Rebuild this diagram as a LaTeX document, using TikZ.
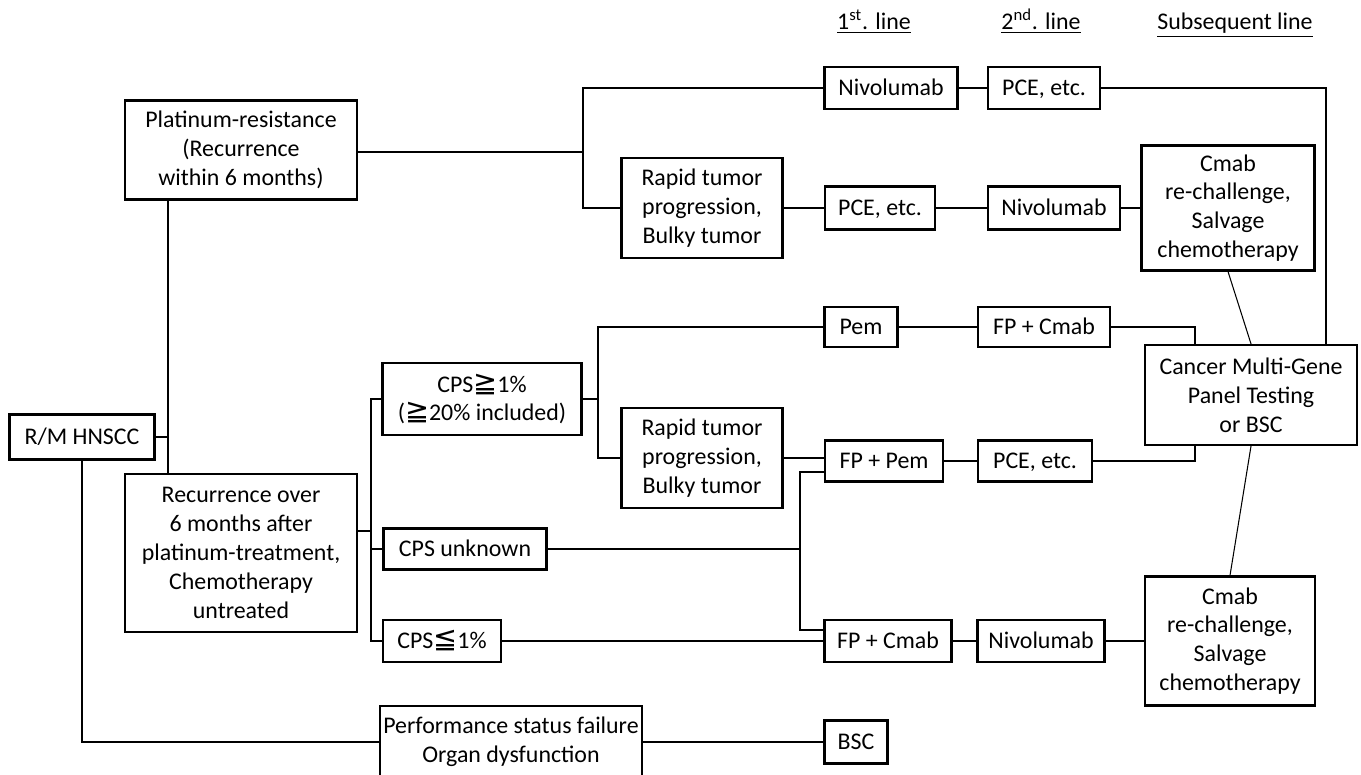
\documentclass[tikz,border=0pt]{standalone}
\usepackage{fontspec}
\setmainfont{Carlito}
\newfontfamily\symfnt[Scale=1.2]{DejaVu Sans}
\usepackage{tikz}

\newcommand{\geqsym}{{\symfnt\char"2267}}
\newcommand{\leqsym}{{\symfnt\char"2266}}

\begin{document}
\begin{tikzpicture}[x=0.02cm,y=-0.02cm,
    box/.style={draw,line width=1.25pt,align=center,inner sep=2pt,
      font=\fontsize{13.6}{16.4}\selectfont},
    single/.style={box,text height=11.4pt,text depth=2.6pt},
    link/.style={line width=1.25pt},
    thin link/.style={line width=0.6pt},
    head/.style={anchor=base,font=\fontsize{13.6}{16.4}\selectfont}]
  \useasboundingbox (0,0) rectangle (1361,774);
  % column titles
  \node[head] (h1) at (874,30) {\underline{1\textsuperscript{st}. line}};
  \node[head] (h2) at (1041,30) {\underline{2\textsuperscript{nd}. line}};
  \node[head] (h3) at (1235,30) {\underline{Subsequent line}};
  % left part
  \node[single,minimum width=2.9cm,minimum height=0.9cm] (rm) at (82,437) {R/M HNSCC};
  \node[box,minimum width=4.64cm,minimum height=1.98cm] (plat) at (241,150)
    {Platinum-resistance\\(Recurrence\\within 6 months)};
  \node[box,minimum width=4.64cm,minimum height=3.16cm] (recur) at (241,553)
    {Recurrence over\\6 months after\\platinum-treatment,\\Chemotherapy\\untreated};
  \node[box,minimum width=5.14cm,minimum height=1.44cm] (perf) at (511,742)
    {Performance status failure\\Organ dysfunction};
  \node[single,minimum width=1.26cm,minimum height=0.86cm] (bsc) at (856,742) {BSC};
  % platinum-resistance branch
  \node[single,minimum width=2.66cm,minimum height=0.84cm] (nivoA) at (891,88) {Nivolumab};
  \node[single,minimum width=2.24cm,minimum height=0.84cm] (pceA) at (1044,88) {PCE, etc.};
  \node[box,minimum width=3.22cm,minimum height=2cm] (rapidA) at (702,208)
    {Rapid tumor\\progression,\\Bulky tumor};
  \node[single,minimum width=2.2cm,minimum height=0.86cm] (pceB) at (880,208) {PCE, etc.};
  \node[single,minimum width=2.64cm,minimum height=0.86cm] (nivoB) at (1054,208) {Nivolumab};
  \node[box,minimum width=3.46cm,minimum height=2.5cm] (cmabA) at (1228,208)
    {Cmab\\re-challenge,\\Salvage\\chemotherapy};
  \node[box,minimum width=4.24cm,minimum height=2cm] (panel) at (1251,395)
    {Cancer Multi-Gene\\Panel Testing\\or BSC};
  \node[box,minimum width=3.4cm,minimum height=2.58cm] (cmabB) at (1230,641)
    {Cmab\\re-challenge,\\Salvage\\chemotherapy};
  % CPS branch
  \node[box,minimum width=3.98cm,minimum height=1.44cm] (cpshi) at (482,399)
    {CPS\geqsym1\%\\(\geqsym20\% included)};
  \node[single,minimum width=3.26cm,minimum height=0.82cm] (cpsunk) at (465,549) {CPS unknown};
  \node[single,minimum width=2.36cm,minimum height=0.84cm] (cpslo) at (442,641) {CPS\leqsym1\%};
  \node[single,minimum width=1.46cm,minimum height=0.8cm] (pem) at (861,327) {Pem};
  \node[single,minimum width=2.64cm,minimum height=0.8cm] (fpcA) at (1044,327) {FP + Cmab};
  \node[box,minimum width=3.22cm,minimum height=2cm] (rapidB) at (702,458)
    {Rapid tumor\\progression,\\Bulky tumor};
  \node[single,minimum width=2.36cm,minimum height=0.82cm] (fppem) at (884,461) {FP + Pem};
  \node[single,minimum width=2.28cm,minimum height=0.82cm] (pceC) at (1035,461) {PCE, etc.};
  \node[single,minimum width=2.54cm,minimum height=0.84cm] (fpcB) at (888,641) {FP + Cmab};
  \node[single,minimum width=2.54cm,minimum height=0.84cm] (nivoC) at (1041,641) {Nivolumab};
  % junctions
  \coordinate (j1) at (168,437);
  \coordinate (j2) at (583,152);
  \coordinate (j3) at (371,531);
  \coordinate (j5) at (598,399);
  \coordinate (j6) at (800,549);
  \coordinate (lt) at (1195,0);
  \coordinate (rt) at (1326,0);
  % connectors
  \draw[link] (rm.east) -- (rm.east -| j1);
  \draw[link] (plat.south -| j1) -- (recur.north -| j1);
  \draw[link] (rm.south) |- (perf.west);
  \draw[link] (perf) -- (bsc);
  \draw[link] (plat.east |- j2) -- (j2);
  \draw[link] (j2) |- (nivoA.west);
  \draw[link] (j2) |- (rapidA.west);
  \draw[link] (nivoA) -- (pceA);
  \draw[link] (pceA.east) -| (rt |- panel.north);
  \draw[link] (rapidA) -- (pceB);
  \draw[link] (pceB) -- (nivoB);
  \draw[link] (nivoB) -- (cmabA);
  \draw[thin link] (cmabA.south) -- (panel.north);
  \draw[thin link] (panel.south) -- (cmabB.north);
  \draw[link] (recur.east |- j3) -- (j3);
  \draw[link] (cpshi.west) -| (j3) |- (cpslo.west);
  \draw[link] (cpsunk.west -| j3) -- (cpsunk.west);
  \draw[link] (cpshi.east) -- (j5);
  \draw[link] (j5) |- (pem.west);
  \draw[link] (j5) |- (rapidB.west);
  \draw[link] (pem) -- (fpcA);
  \draw[link] (fpcA.east) -| (lt |- panel.north);
  \draw[link] (rapidB.east) -- (rapidB.east -| fppem.west);
  \draw[link] (fppem) -- (pceC);
  \draw[link] (pceC.east) -| (lt |- panel.south);
  \draw[link] (cpsunk.east) -- (j6);
  \draw[link] ([yshift=-0.22cm]fppem.west) -| (j6) |- ([yshift=0.22cm]fpcB.west);
  \draw[link] (cpslo) -- (fpcB);
  \draw[link] (fpcB) -- (nivoC);
  \draw[link] (nivoC) -- (cmabB);
\end{tikzpicture}
\end{document}
